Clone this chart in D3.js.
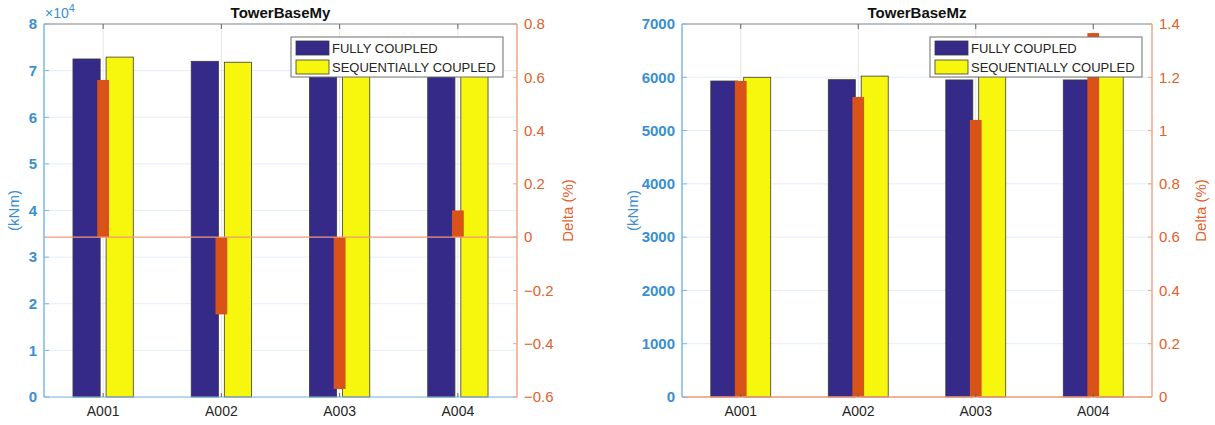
<!DOCTYPE html>
<html>
<head>
  <meta charset="utf-8" />
  <title>TowerBase My / Mz</title>
  <script src="https://d3js.org/d3.v7.min.js"></script>
  <style>
    body { margin: 0; background: #fff; }
    svg { font-family: Arial, "Liberation Sans", sans-serif; }
  </style>
</head>
<body>
  <svg id="chart" width="1215" height="425"></svg>
  <script>
    // categories and series
    var categories = ["A001", "A002", "A003", "A004"];
    var seriesNames = ["FULLY COUPLED", "SEQUENTIALLY COUPLED"];

    // TowerBaseMy (kNm)
    var myFully = [72500, 72000, 72000, 72200];
    var mySeq = [72900, 71800, 71600, 72300];
    var myDelta = [0.59, -0.29, -0.57, 0.10];

    // TowerBaseMz (kNm)
    var mzFully = [5930, 5955, 5950, 5950];
    var mzSeq = [6000, 6022, 6012, 6031];
    var mzDelta = [1.186, 1.126, 1.04, 1.366];

    // axis ticks
    var myTicks = [0, 1e4, 2e4, 3e4, 4e4, 5e4, 6e4, 7e4, 8e4];
    var myTickLabels = ["0", "1", "2", "3", "4", "5", "6", "7", "8"];
    var myDeltaTicks = [-0.6, -0.4, -0.2, 0, 0.2, 0.4, 0.6, 0.8];
    var mzTicks = [0, 1000, 2000, 3000, 4000, 5000, 6000, 7000];
    var mzDeltaTicks = [0, 0.2, 0.4, 0.6, 0.8, 1, 1.2, 1.4];

    var svg = d3.select("#chart");

    var leftText = "#3a8fd3", leftLine = "#7db8e4";
    var rightText = "#e2612b", rightLine = "#f0a488";
    var colFully = "#352a87", colSeq = "#f7f70d", colDelta = "#d95319";

    function drawPanel(p) {
      var g = svg.append("g");
      var x = d3.scaleLinear().domain([0.5, categories.length + 0.5]).range([p.x0, p.x1]);
      var y = d3.scaleLinear().domain(p.yDomain).range([p.y1, p.y0]);
      var y2 = d3.scaleLinear().domain(p.y2Domain).range([p.y1, p.y0]);
      var unit = x(2) - x(1);
      var bw = unit * 0.23, off = unit * 0.14, dw = unit * 0.1;

      // horizontal grid (left ticks)
      g.selectAll(".hg").data(p.ticks).enter().append("line")
        .attr("x1", p.x0).attr("x2", p.x1)
        .attr("y1", function (d) { return y(d); }).attr("y2", function (d) { return y(d); })
        .attr("stroke", "#e3edf7").attr("stroke-width", 1);
      // vertical grid
      g.selectAll(".vg").data(categories).enter().append("line")
        .attr("x1", function (d, i) { return x(i + 1); }).attr("x2", function (d, i) { return x(i + 1); })
        .attr("y1", p.y0).attr("y2", p.y1)
        .attr("stroke", "#e6e6e6").attr("stroke-width", 1);

      // grouped bars
      var bars = g.selectAll(".grp").data(categories).enter().append("g");
      bars.append("rect")
        .attr("x", function (d, i) { return x(i + 1) - off - bw / 2; })
        .attr("y", function (d, i) { return y(p.fully[i]); })
        .attr("width", bw)
        .attr("height", function (d, i) { return y(0) - y(p.fully[i]); })
        .attr("fill", colFully).attr("stroke", "#3a3a3a").attr("stroke-width", 0.8);
      bars.append("rect")
        .attr("x", function (d, i) { return x(i + 1) + off - bw / 2; })
        .attr("y", function (d, i) { return y(p.seq[i]); })
        .attr("width", bw)
        .attr("height", function (d, i) { return y(0) - y(p.seq[i]); })
        .attr("fill", colSeq).attr("stroke", "#3a3a3a").attr("stroke-width", 0.8);

      // delta bars (right axis)
      g.selectAll(".delta").data(p.delta).enter().append("rect")
        .attr("x", function (d, i) { return x(i + 1) - dw / 2; })
        .attr("y", function (d) { return Math.min(y2(d), y2(0)); })
        .attr("width", dw)
        .attr("height", function (d) { return Math.abs(y2(d) - y2(0)); })
        .attr("fill", colDelta);

      // baseline of delta bars
      g.append("line")
        .attr("x1", p.x0).attr("x2", p.x1)
        .attr("y1", y2(0)).attr("y2", y2(0))
        .attr("stroke", "#ee9a7a").attr("stroke-width", 1.2);

      // top border with ticks
      g.append("line").attr("x1", p.x0).attr("x2", p.x1).attr("y1", p.y0).attr("y2", p.y0)
        .attr("stroke", "#8c8c8c").attr("stroke-width", 1.2);
      g.selectAll(".tt").data(categories).enter().append("line")
        .attr("x1", function (d, i) { return x(i + 1); }).attr("x2", function (d, i) { return x(i + 1); })
        .attr("y1", p.y0).attr("y2", p.y0 + 5)
        .attr("stroke", "#666");

      // bottom axis
      g.append("line").attr("x1", p.x0).attr("x2", p.x1).attr("y1", p.y1).attr("y2", p.y1)
        .attr("stroke", p.bottomColor).attr("stroke-width", 1.2);
      g.selectAll(".bt").data(categories).enter().append("line")
        .attr("x1", function (d, i) { return x(i + 1); }).attr("x2", function (d, i) { return x(i + 1); })
        .attr("y1", p.y1).attr("y2", p.y1 - 4)
        .attr("stroke", "#666");
      g.selectAll(".xl").data(categories).enter().append("text")
        .attr("x", function (d, i) { return x(i + 1); })
        .attr("y", p.y1 + 19)
        .attr("text-anchor", "middle")
        .attr("font-size", 14).attr("fill", "#262626")
        .text(function (d) { return d; });

      // left axis
      g.append("line").attr("x1", p.x0).attr("x2", p.x0).attr("y1", p.y0).attr("y2", p.y1)
        .attr("stroke", leftLine).attr("stroke-width", 1.5);
      g.selectAll(".lt").data(p.ticks).enter().append("line")
        .attr("x1", p.x0).attr("x2", p.x0 + 5)
        .attr("y1", function (d) { return y(d); }).attr("y2", function (d) { return y(d); })
        .attr("stroke", leftLine);
      g.selectAll(".ll").data(p.ticks).enter().append("text")
        .attr("x", p.x0 - 7)
        .attr("y", function (d) { return y(d); })
        .attr("dy", "0.35em")
        .attr("text-anchor", "end")
        .attr("font-size", 15).attr("font-weight", "bold").attr("fill", leftText)
        .text(function (d, i) { return p.tickLabels[i]; });
      g.append("text")
        .attr("transform", "translate(" + p.yLabelX + "," + (p.y0 + p.y1) / 2 + ") rotate(-90)")
        .attr("text-anchor", "middle")
        .attr("font-size", 15).attr("fill", leftText)
        .text("(kNm)");

      // right axis
      g.append("line").attr("x1", p.x1).attr("x2", p.x1).attr("y1", p.y0).attr("y2", p.y1)
        .attr("stroke", rightLine).attr("stroke-width", 1.5);
      g.selectAll(".rt").data(p.y2Ticks).enter().append("line")
        .attr("x1", p.x1 - 4).attr("x2", p.x1)
        .attr("y1", function (d) { return y2(d); }).attr("y2", function (d) { return y2(d); })
        .attr("stroke", rightLine);
      g.selectAll(".rl").data(p.y2Ticks).enter().append("text")
        .attr("x", p.x1 + 7)
        .attr("y", function (d) { return y2(d); })
        .attr("dy", "0.35em")
        .attr("font-size", 15).attr("fill", rightText)
        .text(function (d) { return d3.format("")(+d.toFixed(1)); });
      g.append("text")
        .attr("transform", "translate(" + p.y2LabelX + "," + (p.y0 + p.y1) / 2 + ") rotate(-90)")
        .attr("text-anchor", "middle")
        .attr("font-size", 15).attr("fill", rightText)
        .text("Delta (%)");

      // title
      g.append("text")
        .attr("x", (p.x0 + p.x1) / 2).attr("y", p.y0 - 6)
        .attr("text-anchor", "middle")
        .attr("font-size", 15).attr("font-weight", "bold").attr("fill", "#111")
        .text(p.title);

      // exponent label
      if (p.exponent) {
        var ex = g.append("text").attr("x", p.x0 + 1).attr("y", p.y0 - 6)
          .attr("font-size", 14).attr("fill", leftText);
        ex.append("tspan").text("\u00d710");
        ex.append("tspan").attr("dy", -6).attr("font-size", 11).text(p.exponent);
      }

      // legend
      var lg = g.append("g").attr("transform", "translate(" + p.legendX + "," + (p.y0 + 13) + ")");
      lg.append("rect").attr("width", 212).attr("height", 40)
        .attr("fill", "#fff").attr("stroke", "#6e6e6e").attr("stroke-width", 1);
      var cols = [colFully, colSeq];
      seriesNames.forEach(function (name, i) {
        lg.append("rect").attr("x", 5).attr("y", 4 + i * 19).attr("width", 33).attr("height", 14)
          .attr("fill", cols[i]).attr("stroke", "#3a3a3a").attr("stroke-width", 0.8);
        lg.append("text").attr("x", 41).attr("y", 11 + i * 19).attr("dy", "0.35em")
          .attr("font-size", 13).attr("fill", "#262626").text(name);
      });
    }

    drawPanel({
      x0: 44, x1: 517, y0: 24, y1: 397,
      yDomain: [0, 80000], y2Domain: [-0.6, 0.8],
      ticks: myTicks, tickLabels: myTickLabels, y2Ticks: myDeltaTicks,
      fully: myFully, seq: mySeq, delta: myDelta,
      title: "TowerBaseMy", exponent: "4",
      yLabelX: 19, y2LabelX: 573, legendX: 291,
      bottomColor: leftLine
    });

    drawPanel({
      x0: 682, x1: 1152, y0: 24, y1: 397,
      yDomain: [0, 7000], y2Domain: [0, 1.4],
      ticks: mzTicks, tickLabels: mzTicks.map(String), y2Ticks: mzDeltaTicks,
      fully: mzFully, seq: mzSeq, delta: mzDelta,
      title: "TowerBaseMz", exponent: null,
      yLabelX: 638, y2LabelX: 1206, legendX: 930,
      bottomColor: "#ee9a7a"
    });
  </script>
</body>
</html>
